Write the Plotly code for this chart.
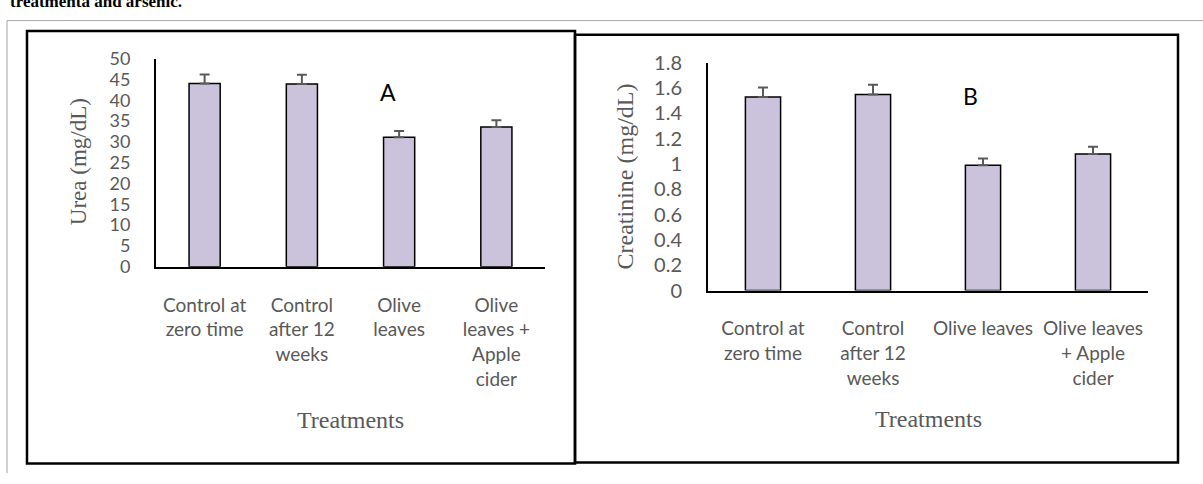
import plotly.graph_objects as go

# Urea panel (A)
urea_labels = ["Control at<br>zero time", "Control<br>after 12<br>weeks",
               "Olive<br>leaves", "Olive<br>leaves +<br>Apple<br>cider"]
urea_mean = [44.0, 43.9, 31.1, 33.6]
urea_err = [2.2, 2.2, 1.5, 1.6]
urea_ticks = [0, 5, 10, 15, 20, 25, 30, 35, 40, 45, 50]

# Creatinine panel (B)
creat_labels = ["Control at<br>zero time", "Control<br>after 12<br>weeks",
                "Olive leaves", "Olive leaves<br>+ Apple<br>cider"]
creat_mean = [1.53, 1.55, 0.99, 1.08]
creat_err = [0.075, 0.078, 0.055, 0.057]
creat_ticks = [0, 0.2, 0.4, 0.6, 0.8, 1.0, 1.2, 1.4, 1.6, 1.8]
creat_ticktext = ["0", "0.2", "0.4", "0.6", "0.8", "1", "1.2", "1.4", "1.6", "1.8"]

W, H = 1203, 484
BAR_FILL = "#CBC2DB"
GREY_TXT = "#595959"
SANS = "Lato, 'Liberation Sans', sans-serif"
SERIF = "'Liberation Serif', 'DejaVu Serif', serif"


def px(x):
    return x / W


def py(y):
    return 1 - y / H


fig = go.Figure()

err_style = dict(type="data", symmetric=False, color=GREY_TXT, thickness=2, width=5)

fig.add_trace(go.Bar(
    x=urea_labels, y=urea_mean, xaxis="x", yaxis="y",
    marker=dict(color=BAR_FILL, line=dict(color="black", width=1.5)),
    error_y=dict(array=urea_err, arrayminus=[0] * len(urea_err), **err_style),
    showlegend=False,
))
fig.add_trace(go.Bar(
    x=creat_labels, y=creat_mean, xaxis="x2", yaxis="y2",
    marker=dict(color=BAR_FILL, line=dict(color="black", width=1.5)),
    error_y=dict(array=creat_err, arrayminus=[0] * len(creat_err), **err_style),
    showlegend=False,
))

xcommon = dict(showline=True, linecolor="black", linewidth=2, showgrid=False,
               ticks="", zeroline=False, fixedrange=True,
               tickfont=dict(family=SANS, size=19, color=GREY_TXT),
               ticklabelstandoff=20)
ycommon = dict(showline=True, linecolor="black", linewidth=2, showgrid=False,
               ticks="", zeroline=False, fixedrange=True,
               ticklabelstandoff=20)

fig.update_layout(
    width=W, height=H,
    margin=dict(l=0, r=0, t=0, b=0),
    paper_bgcolor="white", plot_bgcolor="white",
    bargap=0.68,
    xaxis=dict(domain=[px(156), px(545)], anchor="y", **xcommon),
    yaxis=dict(domain=[py(267), py(48)], anchor="x", range=[0, 50],
               tickvals=urea_ticks,
               tickfont=dict(family=SANS, size=18, color=GREY_TXT), **ycommon),
    xaxis2=dict(domain=[px(708), px(1148)], anchor="y2", **xcommon),
    yaxis2=dict(domain=[py(292), py(52.5)], anchor="x2", range=[0, 1.8],
                tickvals=creat_ticks, ticktext=creat_ticktext,
                tickfont=dict(family=SANS, size=20, color=GREY_TXT), **ycommon),
)

# Panel frames and page border
shapes = [
    dict(type="line", xref="paper", yref="paper", x0=px(7), x1=1, y0=py(8), y1=py(8),
         line=dict(color="#a6a6a6", width=1)),
    dict(type="line", xref="paper", yref="paper", x0=px(7), x1=px(7), y0=py(8), y1=0,
         line=dict(color="#a6a6a6", width=1)),
    dict(type="rect", xref="paper", yref="paper", x0=px(575), x1=px(1178),
         y0=py(473), y1=py(23), line=dict(color="black", width=2.5)),
    dict(type="rect", xref="paper", yref="paper", x0=px(27), x1=px(575),
         y0=py(474), y1=py(19), line=dict(color="black", width=2.5)),
]
fig.update_layout(shapes=shapes)

annotations = [
    # caption fragment running off the top of the page
    dict(text="<b>treatmenta and arsenic.</b>", x=px(8), y=py(-12), xref="paper", yref="paper",
         xanchor="left", yanchor="middle", showarrow=False,
         font=dict(family=SERIF, size=17, color="black")),
    dict(text="Urea (mg/dL)", x=px(78), y=py(157), xref="paper", yref="paper",
         textangle=-90, showarrow=False, xanchor="center", yanchor="middle",
         font=dict(family=SERIF, size=23, color=GREY_TXT)),
    dict(text="Creatinine (mg/dL)", x=px(625), y=py(172), xref="paper", yref="paper",
         textangle=-90, showarrow=False, xanchor="center", yanchor="middle",
         font=dict(family=SERIF, size=24, color=GREY_TXT)),
    dict(text="Treatments", x=px(350), y=py(428), xref="paper", yref="paper",
         showarrow=False, xanchor="center", yanchor="middle",
         font=dict(family=SERIF, size=24, color=GREY_TXT)),
    dict(text="Treatments", x=px(928), y=py(427), xref="paper", yref="paper",
         showarrow=False, xanchor="center", yanchor="middle",
         font=dict(family=SERIF, size=24, color=GREY_TXT)),
    dict(text="A", x=px(388), y=py(83), xref="paper", yref="paper",
         showarrow=False, xanchor="center", yanchor="middle",
         font=dict(family=SANS, size=23, color="black")),
    dict(text="B", x=px(971), y=py(87), xref="paper", yref="paper",
         showarrow=False, xanchor="center", yanchor="middle",
         font=dict(family=SANS, size=23, color="black")),
]
fig.update_layout(annotations=annotations)

fig.write_html("out.html", config=dict(displayModeBar=False))
